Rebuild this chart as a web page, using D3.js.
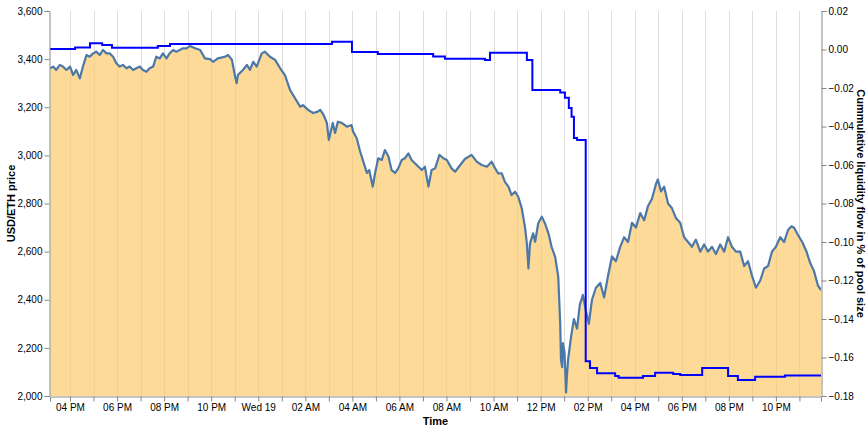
<!DOCTYPE html>
<html>
<head>
<meta charset="utf-8">
<script src="https://cdn.jsdelivr.net/npm/d3@7"></script>
<style>
  html, body { margin: 0; padding: 0; background: #fff; }
  svg { display: block; }
  text { font-family: "Liberation Sans", Arial, sans-serif; }
</style>
</head>
<body>
<svg id="chart" width="868" height="427"></svg>
<script>
// ---- Data ----
// times are "day HH:MM" in May 2021
const priceTimes = [
  "18 15:10","18 15:17","18 15:25","18 15:34","18 15:42","18 15:51","18 16:00","18 16:08","18 16:16","18 16:25",
  "18 16:33","18 16:42","18 16:50","18 16:59","18 17:07","18 17:16","18 17:24","18 17:33","18 17:41","18 17:50",
  "18 17:58","18 18:07","18 18:15","18 18:24","18 18:32","18 18:41","18 18:49","18 18:58","18 19:06","18 19:15",
  "18 19:23","18 19:32","18 19:40","18 19:49","18 19:57","18 20:06","18 20:14","18 20:23","18 20:31","18 20:40",
  "18 20:48","18 20:57","18 21:06","18 21:19","18 21:32","18 21:44","18 21:57","18 22:05","18 22:17","18 22:35",
  "18 22:43","18 22:53","18 23:01","18 23:05","18 23:08","18 23:21","18 23:31","18 23:39","18 23:47","18 23:56",
  "19 00:09","19 00:17","19 00:30","19 00:43","19 00:56","19 01:08","19 01:21","19 01:34","19 01:47","19 01:54",
  "19 02:07","19 02:20","19 02:32","19 02:38","19 02:46","19 02:55","19 03:00","19 03:10","19 03:16","19 03:23",
  "19 03:33","19 03:46","19 03:58","19 04:02","19 04:11","19 04:20","19 04:28","19 04:37","19 04:43","19 04:52",
  "19 04:58","19 05:06","19 05:15","19 05:23","19 05:32","19 05:40","19 05:49","19 05:57","19 06:06","19 06:14",
  "19 06:23","19 06:31","19 06:44","19 06:57","19 07:05","19 07:14","19 07:22","19 07:31","19 07:42","19 07:52",
  "19 08:01","19 08:13","19 08:22","19 08:35","19 08:47","19 09:04","19 09:17","19 09:30","19 09:43","19 09:55",
  "19 10:04","19 10:12","19 10:21","19 10:29","19 10:38","19 10:46","19 10:55","19 11:03","19 11:12","19 11:20",
  "19 11:25","19 11:29","19 11:33","19 11:41","19 11:46","19 11:54","19 12:03","19 12:11","19 12:20","19 12:28",
  "19 12:37","19 12:45","19 12:50","19 12:52","19 12:55","19 12:57","19 13:01","19 13:05","19 13:07","19 13:10",
  "19 13:18","19 13:25","19 13:33","19 13:40","19 13:48","19 13:56","19 14:03","19 14:11","19 14:21","19 14:32",
  "19 14:42","19 14:52","19 15:02","19 15:12","19 15:23","19 15:33","19 15:43","19 15:53","19 16:03","19 16:14",
  "19 16:24","19 16:34","19 16:44","19 16:54","19 16:59","19 17:07","19 17:15","19 17:25","19 17:35","19 17:45",
  "19 17:56","19 18:06","19 18:16","19 18:26","19 18:36","19 18:47","19 18:57","19 19:07","19 19:17","19 19:27",
  "19 19:38","19 19:48","19 19:58","19 20:08","19 20:18","19 20:29","19 20:39","19 20:49","19 20:59","19 21:09",
  "19 21:20","19 21:30","19 21:40","19 21:50","19 22:00","19 22:11","19 22:21","19 22:31","19 22:39","19 22:46",
  "19 22:56","19 23:07","19 23:17","19 23:27","19 23:37","19 23:47","19 23:55"
];
const priceValues = [
  3362,3369,3355,3376,3369,3355,3369,3334,3355,3320,
  3369,3417,3410,3424,3431,3417,3438,3424,3424,3410,
  3383,3369,3376,3362,3369,3355,3362,3369,3355,3348,
  3362,3369,3410,3403,3424,3403,3424,3438,3431,3438,
  3445,3445,3455,3445,3438,3403,3400,3389,3403,3410,
  3417,3397,3327,3300,3334,3355,3376,3355,3389,3369,
  3424,3431,3410,3397,3362,3334,3272,3237,3202,3209,
  3189,3176,3182,3189,3170,3135,3064,3135,3093,3140,
  3135,3119,3126,3098,3072,3015,2974,2927,2939,2870,
  2927,2988,2981,3022,2995,2939,2927,2946,2981,2988,
  3008,2981,2960,2939,2953,2870,2939,2946,3002,2988,
  2981,2946,2932,2960,2985,3002,2974,2960,2953,2974,
  2946,2925,2925,2890,2870,2835,2849,2828,2780,2704,
  2634,2530,2634,2676,2641,2718,2745,2718,2676,2620,
  2579,2496,2300,2150,2120,2220,2180,2015,2080,2150,
  2250,2320,2280,2380,2420,2350,2300,2400,2450,2470,
  2410,2500,2580,2560,2620,2660,2640,2720,2700,2760,
  2730,2790,2820,2880,2900,2850,2870,2800,2780,2740,
  2720,2660,2640,2620,2650,2600,2630,2600,2620,2590,
  2630,2600,2660,2620,2600,2600,2540,2560,2500,2450,
  2480,2530,2540,2600,2620,2660,2640,2690,2705,2700,
  2670,2640,2605,2555,2520,2460,2440
];

const flowTimes = [
  "18 15:09","18 16:13","18 16:51","18 17:22","18 17:47","18 19:44","18 20:15","19 03:08","19 03:59","19 05:05",
  "19 07:26","19 07:56","19 09:38","19 09:51","19 11:25","19 11:39","19 12:50","19 13:02","19 13:12","19 13:19",
  "19 13:25","19 13:33","19 13:55","19 14:06","19 14:24","19 15:10","19 15:19","19 16:21","19 16:52","19 17:38",
  "19 17:56","19 18:52","19 19:58","19 20:23","19 21:07","19 22:23","19 23:55"
];
const flowValues = [
  0.0003,0.0011,0.0032,0.0023,0.0009,0.0018,0.0028,0.0040,-0.0013,-0.0023,
  -0.0037,-0.0048,-0.0055,-0.0017,-0.0055,-0.0210,-0.0224,-0.0250,-0.0304,-0.0349,
  -0.0460,-0.0470,-0.1620,-0.1655,-0.1682,-0.1696,-0.1705,-0.1696,-0.1679,-0.1686,
  -0.1691,-0.1655,-0.1696,-0.1717,-0.1700,-0.1694,-0.1694
];

const timeDomain = ["18 15:09", "19 23:55"];
const priceDomain = [2000, 3600];
const flowDomain = [-0.18, 0.02];
const priceTickValues = [2000, 2200, 2400, 2600, 2800, 3000, 3200, 3400, 3600];
const flowTickValues = [-0.18, -0.16, -0.14, -0.12, -0.10, -0.08, -0.06, -0.04, -0.02, 0.00, 0.02];

const xTitle = "Time";
const yLeftTitle = "USD/ETH price";
const yRightTitle = "Cummulative liquidity flow in % of pool size";

// ---- Drawing ----
const parse = d3.timeParse("%Y-%m-%d %H:%M");
const toDate = s => parse("2021-05-" + s);

const margin = { left: 50, right: 47, top: 11, bottom: 31 };
const W = 868, H = 427;
const x0 = margin.left, x1 = W - margin.right;   // 50 .. 821
const y0 = margin.top, y1 = H - margin.bottom;   // 11 .. 396

const svg = d3.select("#chart");

const x = d3.scaleTime().domain(timeDomain.map(toDate)).range([x0, x1]);
const yL = d3.scaleLinear().domain(priceDomain).range([y1, y0]);
const yR = d3.scaleLinear().domain(flowDomain).range([y1, y0]);

const price = priceTimes.map((t, i) => ({ t: toDate(t), v: priceValues[i] }));
const flow = flowTimes.map((t, i) => ({ t: toDate(t), v: flowValues[i] }));

svg.append("defs").append("clipPath").attr("id", "clip")
  .append("rect").attr("x", x0).attr("y", y0).attr("width", x1 - x0).attr("height", y1 - y0);

// vertical grid
const hourTicks = x.ticks(d3.timeHour.every(1));
svg.append("g").selectAll("line").data(hourTicks).join("line")
  .attr("x1", d => Math.round(x(d)) + 0.5).attr("x2", d => Math.round(x(d)) + 0.5)
  .attr("y1", y0).attr("y2", y1)
  .attr("stroke", "#ddd").attr("stroke-width", 1);

const plot = svg.append("g").attr("clip-path", "url(#clip)");

// price area
plot.append("path").datum(price)
  .attr("d", d3.area().x(d => x(d.t)).y0(yL(priceDomain[0])).y1(d => yL(d.v)))
  .attr("fill", "rgb(252,202,108)").attr("fill-opacity", 0.7);

// price line
plot.append("path").datum(price)
  .attr("d", d3.line().x(d => x(d.t)).y(d => yL(d.v)))
  .attr("fill", "none").attr("stroke", "#4c78a8").attr("stroke-width", 2.2)
  .attr("stroke-linejoin", "round");

// flow step line
plot.append("path").datum(flow)
  .attr("d", d3.line().curve(d3.curveStepAfter).x(d => x(d.t)).y(d => yR(d.v)))
  .attr("fill", "none").attr("stroke", "#0000ff").attr("stroke-width", 2);

// axes
function styleAxis(g) {
  g.selectAll(".domain").attr("stroke", "#888");
  g.selectAll(".tick line").attr("stroke", "#888");
  g.selectAll(".tick text").attr("fill", "#000").attr("font-size", 10)
    .attr("font-family", "'Liberation Sans', Arial, sans-serif");
}

const fmtHour = d3.timeFormat("%I %p");
const fmtDay = d3.timeFormat("%a %d");
const xAxis = d3.axisBottom(x).tickValues(hourTicks).tickSizeOuter(0).tickSize(5).tickPadding(2)
  .tickFormat(d => d.getHours() === 0 ? fmtDay(d) : (d.getHours() % 2 === 0 ? fmtHour(d) : ""));
svg.append("g").attr("transform", `translate(0,${y1 + 0.5})`).call(xAxis).call(styleAxis);

const yAxisL = d3.axisLeft(yL).tickValues(priceTickValues).tickFormat(d3.format(",")).tickSizeOuter(0).tickSize(5).tickPadding(2);
svg.append("g").attr("transform", `translate(${x0 - 0.5},0)`).call(yAxisL).call(styleAxis);

const yAxisR = d3.axisRight(yR).tickValues(flowTickValues).tickFormat(d3.format(".2f")).tickSizeOuter(0).tickSize(5).tickPadding(2);
svg.append("g").attr("transform", `translate(${x1 + 0.5},0)`).call(yAxisR).call(styleAxis);

// titles
svg.append("text").attr("x", (x0 + x1) / 2).attr("y", 425)
  .attr("text-anchor", "middle").attr("font-size", 11).attr("font-weight", "bold").text(xTitle);

svg.append("text").attr("transform", `translate(15,${(y0 + y1) / 2}) rotate(-90)`)
  .attr("text-anchor", "middle").attr("font-size", 11).attr("font-weight", "bold").text(yLeftTitle);

svg.append("text").attr("transform", `translate(857,${(y0 + y1) / 2}) rotate(90)`)
  .attr("text-anchor", "middle").attr("font-size", 11).attr("font-weight", "bold").text(yRightTitle);
</script>
</body>
</html>
